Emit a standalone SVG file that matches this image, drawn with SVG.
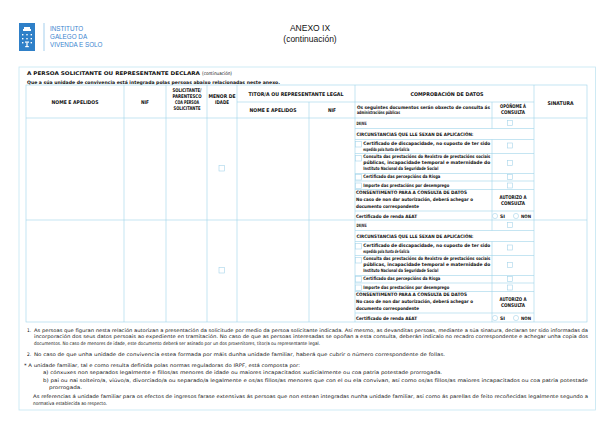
<svg xmlns="http://www.w3.org/2000/svg" width="615" height="439" viewBox="0 0 615 439">
<style>
text{font-family:"Liberation Sans Narrow","DejaVu Sans Condensed","Liberation Sans",sans-serif;fill:#111}
.h{font-size:5px;font-weight:bold}
.b{font-size:4.6px;font-weight:bold}
.n{font-size:4.8px}
.c{text-anchor:middle}
.ln{stroke:#9dd3ea;stroke-width:0.6;fill:none}
.fr{stroke:#c3e5f2;stroke-width:0.8;fill:none}
.cb{stroke:#a5d4ea;stroke-width:0.6;fill:#fff}
.lg{font-family:"Liberation Sans",sans-serif;font-size:6.3px;fill:#3a85cf}
</style>
<rect width="615" height="439" fill="#fff"/>
<g id="logo">
<rect x="19" y="23" width="16" height="28" fill="#2f80c8"/>
<path d="M23 29h8v2h-8z M24 27h6v2h-6z" fill="#fff"/>
<g fill="#fff"><rect x="22" y="34" width="1.4" height="1.4"/><rect x="26.3" y="34" width="1.4" height="1.4"/><rect x="30.6" y="34" width="1.4" height="1.4"/><rect x="22" y="38" width="1.4" height="1.4"/><rect x="26.3" y="38" width="1.4" height="1.4"/><rect x="30.6" y="38" width="1.4" height="1.4"/><rect x="22" y="42" width="1.4" height="1.4"/><rect x="30.6" y="42" width="1.4" height="1.4"/><rect x="25" y="41.5" width="4" height="1.2"/><rect x="26.4" y="42.5" width="1.2" height="4"/><rect x="25.2" y="46" width="3.6" height="1.2"/></g>
<line x1="44" y1="23" x2="44" y2="51" stroke="#6aaee0" stroke-width="0.6"/>
<text class="lg" x="50" y="30.5">INSTITUTO</text>
<text class="lg" x="50" y="38.5">GALEGO DA</text>
<text class="lg" x="50" y="47">VIVENDA E SOLO</text>
</g>
<g id="title">
<text x="310" y="31" class="c" style="font-family:'Liberation Sans',sans-serif;font-size:8.5px">ANEXO IX</text>
<text x="310" y="42" class="c" style="font-family:'Liberation Sans',sans-serif;font-size:8.5px">(continuación)</text>
</g>
<rect class="fr" x="19" y="67" width="576.5" height="343"/>
<g id="heading">
<text class="h" x="27" y="75" textLength="173" lengthAdjust="spacingAndGlyphs">A PERSOA SOLICITANTE OU REPRESENTANTE DECLARA</text>
<text class="n" x="202" y="75" textLength="30" lengthAdjust="spacingAndGlyphs">(continuación)</text>
<text class="b" x="27" y="83.5" textLength="253" lengthAdjust="spacingAndGlyphs">Que a súa unidade de convivencia está integrada polas persoas abaixo relacionadas neste anexo.</text>
</g>
<g id="table">
<g class="ln">
<rect x="26" y="85" width="561" height="237"/>
<path d="M124 85V322 M166 85V322 M207 85V322 M237 85V322 M309 102V322 M355 85V322 M534 85V322 M492 102V118 M237 102H355 M355 102H534 M26 118H587 M26 220H587"/>
</g>
<g id="hdr">
<text class="h c" x="75" y="103.5" textLength="47" lengthAdjust="spacingAndGlyphs">NOME E APELIDOS</text>
<text class="h c" x="145" y="103.5" textLength="8" lengthAdjust="spacingAndGlyphs">NIF</text>
<text class="h c" x="187" y="92" textLength="29" lengthAdjust="spacingAndGlyphs">SOLICITANTE/</text>
<text class="h c" x="187" y="98" textLength="29" lengthAdjust="spacingAndGlyphs">PARENTESCO</text>
<text class="h c" x="187" y="104" textLength="24" lengthAdjust="spacingAndGlyphs">COA PERSOA</text>
<text class="h c" x="187" y="110" textLength="27" lengthAdjust="spacingAndGlyphs">SOLICITANTE</text>
<text class="h c" x="222" y="98" textLength="27" lengthAdjust="spacingAndGlyphs">MENOR DE</text>
<text class="h c" x="222" y="104" textLength="14" lengthAdjust="spacingAndGlyphs">IDADE</text>
<text class="h c" x="296" y="95.5" textLength="95" lengthAdjust="spacingAndGlyphs">TITOR/A OU REPRESENTANTE LEGAL</text>
<text class="h c" x="273" y="111.5" textLength="47" lengthAdjust="spacingAndGlyphs">NOME E APELIDOS</text>
<text class="h c" x="332" y="111.5" textLength="8" lengthAdjust="spacingAndGlyphs">NIF</text>
<text class="h c" x="447" y="95.5" textLength="73" lengthAdjust="spacingAndGlyphs">COMPROBACIÓN DE DATOS</text>
<text class="b" x="357" y="108.5" textLength="133" lengthAdjust="spacingAndGlyphs">Os seguintes documentos serán obxecto de consulta ás</text>
<text class="b" x="357" y="114" textLength="43" lengthAdjust="spacingAndGlyphs">administracións públicas</text>
<text class="h c" x="513" y="108" textLength="26" lengthAdjust="spacingAndGlyphs">OPÓÑOME Á</text>
<text class="h c" x="513" y="113.5" textLength="24" lengthAdjust="spacingAndGlyphs">CONSULTA</text>
<text class="h c" x="560.5" y="105" textLength="26" lengthAdjust="spacingAndGlyphs">SINATURA</text>
</g>
<g id="block1">
<g class="ln"><path d="M355 128.5H534 M355 139.5H534 M355 153.5H534 M355 173.5H534 M355 181H534 M355 189.5H534 M355 211H534 M492 118V128.5 M492 139.5V220"/></g>
<rect class="cb" x="219" y="165.5" width="5.5" height="5.5"/>
<g class="cb"><rect x="507.5" y="120.5" width="5" height="5"/><rect x="507.5" y="143" width="5" height="5"/><rect x="507.5" y="160.5" width="5" height="5"/><rect x="507.5" y="174.5" width="5" height="5"/><rect x="507.5" y="183" width="5" height="5"/>
<rect x="355.5" y="141.5" width="6" height="5.5"/><rect x="355.5" y="155.5" width="6" height="5.5"/><rect x="355.5" y="174.5" width="6" height="5.5"/><rect x="355.5" y="183" width="6" height="5.5"/>
<circle cx="495" cy="216" r="2.6"/><circle cx="516" cy="216" r="2.6"/></g>
<text class="b" x="356.5" y="125" textLength="10" lengthAdjust="spacingAndGlyphs">DNI/NIE</text>
<text class="b" x="356.5" y="136" textLength="117" lengthAdjust="spacingAndGlyphs">CIRCUNSTANCIAS QUE LLE SEXAN DE APLICACIÓN:</text>
<text class="b" x="363.3" y="145" textLength="127" lengthAdjust="spacingAndGlyphs">Certificado de discapacidade, no suposto de ter sido</text>
<text class="b" x="363.3" y="150.8" textLength="46" lengthAdjust="spacingAndGlyphs">expedido pola Xunta de Galicia</text>
<text class="b" x="363.3" y="158.3" textLength="127" lengthAdjust="spacingAndGlyphs">Consulta das prestacións do Rexistro de prestacións sociais</text>
<text class="b" x="363.3" y="164" textLength="127" lengthAdjust="spacingAndGlyphs">públicas, incapacidade temporal e maternidade do</text>
<text class="b" x="363.3" y="169.6" textLength="75" lengthAdjust="spacingAndGlyphs">Instituto Nacional da Seguridade Social</text>
<text class="b" x="363.3" y="177.6" textLength="77" lengthAdjust="spacingAndGlyphs">Certificado das percepcións da Risga</text>
<text class="b" x="363.3" y="186.5" textLength="86" lengthAdjust="spacingAndGlyphs">Importe das prestacións por desemprego</text>
<text class="b" x="356" y="194.3" textLength="111" lengthAdjust="spacingAndGlyphs">CONSENTIMENTO PARA A CONSULTA DE DATOS</text>
<text class="b" x="356" y="200.8" textLength="117" lengthAdjust="spacingAndGlyphs">No caso de non dar autorización, deberá achegar o</text>
<text class="b" x="356" y="207.5" textLength="63" lengthAdjust="spacingAndGlyphs">documento correspondente</text>
<text class="h c" x="513" y="199" textLength="27" lengthAdjust="spacingAndGlyphs">AUTORIZO A</text>
<text class="h c" x="513" y="204.5" textLength="24" lengthAdjust="spacingAndGlyphs">CONSULTA</text>
<text class="b" x="356" y="217.6" textLength="61" lengthAdjust="spacingAndGlyphs">Certificado de renda AEAT</text>
<text class="b" x="500" y="217.6" textLength="5" lengthAdjust="spacingAndGlyphs">SI</text>
<text class="b" x="521" y="217.6" textLength="10" lengthAdjust="spacingAndGlyphs">NON</text>
</g>
<use id="block2" href="#block1" transform="translate(0,102)"/>
</g>
<g id="notes">
<text class="n" x="27" y="331.5">1.</text>
<text class="n" x="34" y="331.5" textLength="554" lengthAdjust="spacingAndGlyphs">As persoas que figuran nesta relación autorizan a presentación da solicitude por medio da persoa solicitante indicada. Así mesmo, as devanditas persoas, mediante a súa sinatura, declaran ter sido informadas da</text>
<text class="n" x="34" y="338" textLength="554" lengthAdjust="spacingAndGlyphs">incorporación dos seus datos persoais ao expediente en tramitación. No caso de que as persoas interesadas se opoñan a esta consulta, deberán indicalo no recadro correspondente e achegar unha copia dos</text>
<text class="n" x="34" y="344.5" textLength="286" lengthAdjust="spacingAndGlyphs">documentos. No caso de menores de idade, este documento deberá ser asinado por un dos proxenitores, titor/a ou representante legal.</text>
<text class="n" x="27" y="355.5">2.</text>
<text class="n" x="34" y="355.5" textLength="411" lengthAdjust="spacingAndGlyphs">No caso de que unha unidade de convivencia estea formada por máis dunha unidade familiar, haberá que cubrir o número correspondente de follas.</text>
<text class="n" x="24" y="366.5" textLength="276" lengthAdjust="spacingAndGlyphs">* A unidade familiar, tal e como resulta definida polas normas reguladoras do IRPF, está composta por:</text>
<text class="n" x="43" y="374" textLength="399" lengthAdjust="spacingAndGlyphs">a) cónxuxes non separados legalmente e fillos/as menores de idade ou maiores incapacitados xudicialmente ou coa patria potestade prorrogada.</text>
<text class="n" x="43" y="381.5" textLength="545" lengthAdjust="spacingAndGlyphs">b) pai ou nai solteiro/a, viúvo/a, divorciado/a ou separado/a legalmente e os/as fillos/as menores que con el ou ela convivan, así como os/as fillos/as maiores incapacitados ou coa patria potestade</text>
<text class="n" x="49" y="388.5" textLength="33" lengthAdjust="spacingAndGlyphs">prorrogada.</text>
<text class="n" x="33" y="397.5" textLength="555" lengthAdjust="spacingAndGlyphs">As referencias á unidade familiar para os efectos de ingresos farase extensivas ás persoas que non estean integradas nunha unidade familiar, así como ás parellas de feito recoñecidas legalmente segundo a</text>
<text class="n" x="33" y="404.5" textLength="74" lengthAdjust="spacingAndGlyphs">normativa establecida ao respecto.</text>
</g>
</svg>
